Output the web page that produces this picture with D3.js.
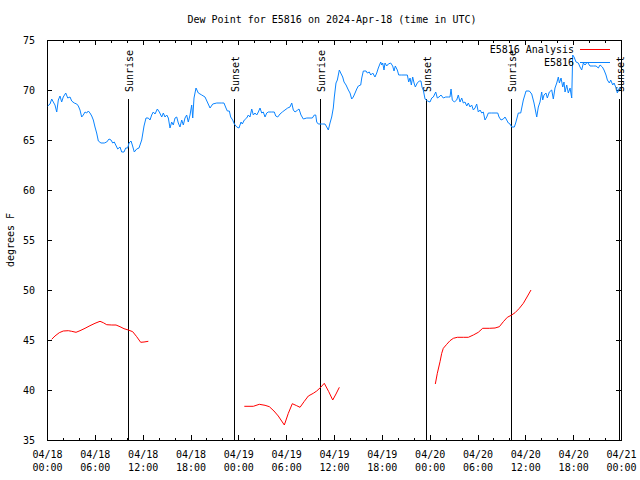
<!DOCTYPE html>
<html>
<head>
<meta charset="utf-8">
<script src="https://cdn.jsdelivr.net/npm/d3@7"></script>
<style>
  html, body { margin: 0; padding: 0; background: #fff; }
  svg { display: block; font-family: "DejaVu Sans Mono", "Liberation Mono", monospace; font-size: 10px; }
</style>
</head>
<body>
<svg id="chart" width="640" height="480"></svg>
<script>
// ---------------- DATA ----------------
const titleText = "Dew Point for E5816 on 2024-Apr-18 (time in UTC)";
const yLabelText = "degrees F";
const startUTC = "2024-04-18T00:00:00Z";
const endUTC = "2024-04-21T00:00:00Z";
const yDomain = [35, 75];
const yTicks = [35, 40, 45, 50, 55, 60, 65, 70, 75];
const majorTickHours = [0, 6, 12, 18, 24, 30, 36, 42, 48, 54, 60, 66, 72];
const minorTickHours = d3.range(0, 73, 2);
const legendNames = ["E5816 Analysis", "E5816"];

// Observation series (hours since 04/18 00:00 UTC, dew point °F)
const obsHours = [0.09,0.38,0.59,0.79,1.00,1.22,1.42,1.63,1.84,2.04,2.35,2.60,2.89,3.10,3.42,3.73,3.93,4.14,4.35,4.55,4.77,4.98,5.18,5.39,5.61,5.81,6.02,6.23,6.44,6.77,7.19,7.49,7.78,8.03,8.24,8.44,8.62,8.87,9.16,9.37,9.66,9.87,10.12,10.29,10.54,10.70,10.95,11.25,11.54,11.88,12.17,12.42,12.71,12.92,13.13,13.33,13.55,13.84,14.09,14.39,14.59,14.80,15.02,15.22,15.43,15.64,15.84,16.06,16.27,16.47,16.68,16.90,17.10,17.31,17.52,17.72,17.94,18.15,18.28,18.44,18.69,18.98,19.41,19.82,20.11,20.45,20.79,21.29,21.92,22.20,22.45,22.62,22.87,23.04,23.29,23.50,23.80,24.08,24.34,24.50,24.75,25.05,25.25,25.46,25.68,25.88,26.09,26.31,26.51,26.72,26.93,27.13,27.35,27.56,27.76,28.19,28.51,28.69,28.94,29.23,29.52,29.85,30.19,30.48,30.70,30.90,31.11,31.45,31.61,31.86,32.15,32.58,32.99,33.28,33.53,33.71,33.83,34.03,34.53,34.87,35.09,35.29,35.50,35.71,35.91,36.04,36.25,36.42,36.67,36.84,37.09,37.26,37.51,37.80,38.01,38.22,38.42,38.64,38.85,39.05,39.35,39.48,39.68,40.02,40.18,40.43,40.61,40.86,41.14,41.36,41.56,41.86,41.99,42.11,42.27,42.40,42.61,42.81,43.11,43.36,43.53,43.69,43.94,44.12,44.49,44.91,45.20,45.37,45.54,45.70,45.87,46.04,46.20,46.45,46.70,46.91,47.04,47.20,47.42,47.75,48.04,48.26,48.46,48.76,48.96,49.17,49.42,49.71,50.01,50.34,50.55,50.68,50.84,51.09,51.39,51.59,51.81,52.02,52.22,52.43,52.65,52.85,53.06,53.27,53.48,53.69,53.90,54.10,54.32,54.53,54.73,54.94,55.16,55.36,55.78,56.20,56.54,56.70,56.95,57.24,57.45,57.66,57.87,58.08,58.29,58.62,58.79,59.12,59.42,59.75,60.09,60.50,60.80,61.09,61.43,61.63,61.84,62.05,62.18,62.34,62.59,62.76,63.01,63.31,63.51,63.72,63.94,64.14,64.27,64.48,64.69,64.85,64.98,65.19,65.39,65.61,65.82,65.94,66.11,66.36,66.65,66.86,67.07,67.28,67.49,67.78,68.11,68.53,68.87,69.16,69.37,69.66,69.87,70.12,70.29,70.54,70.71,70.96,71.13,71.38,71.54,71.67,71.88];
const obsValues = [68.4,68.6,69.1,68.8,68.5,67.8,69.0,69.4,68.8,69.3,69.7,69.2,69.3,68.9,68.7,68.6,68.4,68.0,67.3,67.5,67.8,67.7,67.9,67.7,67.4,67.0,66.3,65.7,64.9,64.7,64.7,64.8,65.1,65.0,64.7,64.8,64.5,64.1,64.3,63.8,63.8,64.2,64.2,64.7,64.9,64.5,63.8,64.1,64.2,65.0,66.4,67.2,67.2,67.0,67.5,67.8,67.6,68.1,67.8,67.3,67.7,67.3,67.5,67.2,66.2,66.8,66.5,67.2,67.3,66.7,66.3,67.0,66.5,67.2,67.5,66.8,67.5,68.5,67.2,69.2,70.2,69.7,69.5,69.3,68.8,68.2,68.6,68.7,68.7,68.7,68.2,67.9,67.9,67.3,67.0,66.6,66.3,66.2,66.8,66.6,67.0,67.2,67.5,67.3,68.1,67.5,67.7,67.5,67.8,68.2,67.7,67.8,67.3,67.7,67.8,67.8,67.8,67.4,67.3,67.6,67.8,68.0,68.2,68.3,68.7,68.0,67.8,68.0,68.1,67.5,67.1,67.2,67.2,67.2,67.5,67.5,66.8,66.6,66.6,66.6,66.3,66.0,66.7,67.3,68.2,69.3,70.7,71.0,72.0,71.7,71.3,70.8,70.5,70.0,69.7,69.1,69.3,69.7,70.1,70.4,70.5,71.2,71.9,71.9,71.7,71.8,71.5,71.7,71.3,71.7,72.2,72.8,72.5,72.7,72.0,72.7,72.4,72.6,72.7,72.4,71.9,72.4,72.0,71.5,71.5,71.5,71.5,70.8,71.2,70.5,71.3,70.7,70.3,70.7,70.9,70.9,70.3,70.0,69.1,68.9,68.8,69.2,69.3,69.8,69.2,69.3,69.5,69.2,69.3,69.3,69.3,70.1,69.0,68.8,69.0,69.5,68.8,69.2,68.7,68.8,68.4,68.7,68.3,68.5,68.0,68.2,68.6,67.8,68.0,67.7,67.8,67.0,67.3,67.7,67.7,67.7,67.7,67.3,67.0,67.1,67.3,67.0,66.7,66.6,66.3,66.3,66.7,67.7,67.7,69.0,69.9,69.9,69.6,68.7,67.3,68.3,68.8,69.8,69.0,69.5,69.7,69.2,69.8,70.0,69.1,70.2,70.7,71.3,70.7,71.2,70.3,70.8,69.8,70.5,69.7,70.2,69.2,73.5,73.3,72.8,72.7,72.3,72.0,72.7,72.5,72.8,72.4,72.4,72.4,72.2,72.5,72.3,72.0,71.5,71.0,70.7,71.0,70.5,70.7,70.2,69.7,70.0,70.3];

// Analysis series (null = gap between runs)
const anaHours = [0.59,1.00,1.54,2.04,2.67,3.10,3.64,4.14,4.77,5.39,6.02,6.65,7.06,7.49,8.12,8.66,9.16,9.66,10.20,10.75,11.25,11.75,12.17,12.71,null,
  24.75,25.88,26.63,27.35,27.89,28.47,29.01,29.77,30.27,30.77,31.32,31.74,32.24,32.78,33.40,33.83,34.33,34.78,35.34,35.84,36.25,36.67,null,
  48.71,48.96,49.30,49.51,49.71,50.14,50.55,50.97,51.47,52.22,52.85,53.48,54.10,54.65,55.48,56.20,56.74,57.24,57.74,58.29,58.71,59.25,59.75,60.21,60.71];
const anaValues = [45.07,45.4,45.73,45.9,45.93,45.87,45.77,45.93,46.17,46.43,46.67,46.87,46.73,46.53,46.5,46.5,46.33,46.13,46.0,45.83,45.33,44.77,44.8,44.87,null,
  38.37,38.37,38.57,38.47,38.33,37.9,37.4,36.5,37.67,38.63,38.43,38.27,38.83,39.4,39.67,39.9,40.27,40.67,39.83,39.0,39.6,40.27,null,
  40.6,41.67,42.83,43.67,44.17,44.57,44.93,45.17,45.27,45.27,45.27,45.5,45.77,46.17,46.17,46.2,46.33,46.83,47.27,47.5,47.73,48.17,48.67,49.3,50.0];

// Sunrise / sunset markers (hours since start)
const sunHours = [10.20, 23.50, 34.28, 47.58, 58.24, 71.75];
const sunLabels = ["Sunrise", "Sunset", "Sunrise", "Sunset", "Sunrise", "Sunset"];

// ---------------- CHART ----------------
const svg = d3.select("#chart");
const L = 47, R = 621, T = 40, B = 440;
const t0 = new Date(startUTC), t1 = new Date(endUTC);
const hToDate = h => new Date(t0.getTime() + h * 3600e3);

const x = d3.scaleUtc().domain([t0, t1]).range([L, R]);
const y = d3.scaleLinear().domain(yDomain).range([B, T]);

const ink = "#000";
const blue = "#0a84ff";
const red = "#ff0000";

// Frame
svg.append("rect")
  .attr("x", L + 0.5).attr("y", T + 0.5)
  .attr("width", R - L).attr("height", B - T)
  .attr("fill", "none").attr("stroke", ink).attr("stroke-width", 1)
  .attr("shape-rendering", "crispEdges");

// X axes (ticks inward, bottom and top)
const majorDates = majorTickHours.map(hToDate);
const minorDates = minorTickHours.filter(h => h % 6 !== 0).map(hToDate);

function xTicks(pos, vals, size) {
  const ax = (pos === "bottom" ? d3.axisBottom(x) : d3.axisTop(x))
    .tickValues(vals).tickSizeInner(-size).tickSizeOuter(0).tickFormat("");
  const g = svg.append("g")
    .attr("transform", `translate(0,${pos === "bottom" ? B : T})`)
    .call(ax);
  g.select(".domain").remove();
  g.selectAll("line").attr("stroke", ink).attr("shape-rendering", "crispEdges");
  return g;
}
const bottomMajor = xTicks("bottom", majorDates, 5);
xTicks("bottom", minorDates, 2.5);
xTicks("top", majorDates, 5);
xTicks("top", minorDates, 2.5);

const fmtDay = d3.utcFormat("%m/%d");
const fmtHour = d3.utcFormat("%H:%M");
bottomMajor.selectAll(".tick").each(function(d) {
  const t = d3.select(this).append("text")
    .attr("fill", ink).attr("text-anchor", "middle")
    .style("font-family", "DejaVu Sans Mono, monospace").style("font-size", "10px");
  t.append("tspan").attr("x", 0).attr("y", 18).text(fmtDay(d));
  t.append("tspan").attr("x", 0).attr("y", 31).text(fmtHour(d));
});

// Y axes
function yTicksAxis(side) {
  const ax = (side === "left" ? d3.axisLeft(y) : d3.axisRight(y))
    .tickValues(yTicks).tickSizeInner(-5).tickSizeOuter(0)
    .tickPadding(side === "left" ? 12 : 0)
    .tickFormat(side === "left" ? d3.format("d") : "");
  const g = svg.append("g")
    .attr("transform", `translate(${side === "left" ? L : R},0)`)
    .call(ax);
  g.select(".domain").remove();
  g.selectAll("line").attr("stroke", ink).attr("shape-rendering", "crispEdges");
  g.selectAll("text").attr("fill", ink)
    .style("font-family", "DejaVu Sans Mono, monospace").style("font-size", "10px");
  return g;
}
yTicksAxis("left");
yTicksAxis("right");

// Sunrise / sunset lines and labels
const sunG = svg.append("g");
sunHours.forEach((h, i) => {
  const sx = Math.round(x(hToDate(h))) + 0.5;
  sunG.append("line")
    .attr("x1", sx).attr("x2", sx).attr("y1", 99).attr("y2", B)
    .attr("stroke", ink).attr("stroke-width", 1)
    .attr("shape-rendering", "crispEdges");
  sunG.append("text")
    .attr("transform", `translate(${sx + 4.5},92) rotate(-90)`)
    .attr("text-anchor", "start").attr("fill", ink)
    .text(sunLabels[i]);
});

// Lines
const lineGen = d3.line()
  .defined(d => d[1] !== null && d[0] !== null)
  .x(d => x(hToDate(d[0])))
  .y(d => y(d[1]));

const anaData = anaHours.map((h, i) => [h, anaValues[i]]);
const obsData = obsHours.map((h, i) => [h, obsValues[i]]);

svg.append("path").datum(anaData)
  .attr("d", lineGen).attr("fill", "none")
  .attr("stroke", red).attr("stroke-width", 1);

svg.append("path").datum(obsData)
  .attr("d", lineGen).attr("fill", "none")
  .attr("stroke", blue).attr("stroke-width", 1);

// Legend
const legend = svg.append("g");
const legendColors = [red, blue];
legendNames.forEach((name, i) => {
  const ly = 49.5 + i * 13;
  legend.append("text")
    .attr("x", 574).attr("y", ly + 3.5)
    .attr("text-anchor", "end").attr("fill", ink)
    .text(name);
  legend.append("line")
    .attr("x1", 580).attr("x2", 610).attr("y1", ly).attr("y2", ly)
    .attr("stroke", legendColors[i]).attr("stroke-width", 1)
    .attr("shape-rendering", "crispEdges");
});

// Title
svg.append("text")
  .attr("x", 332).attr("y", 23)
  .attr("text-anchor", "middle").attr("fill", ink)
  .text(titleText);

// Y axis label
svg.append("text")
  .attr("transform", "translate(14,240) rotate(-90)")
  .attr("text-anchor", "middle").attr("fill", ink)
  .text(yLabelText);
</script>
</body>
</html>
